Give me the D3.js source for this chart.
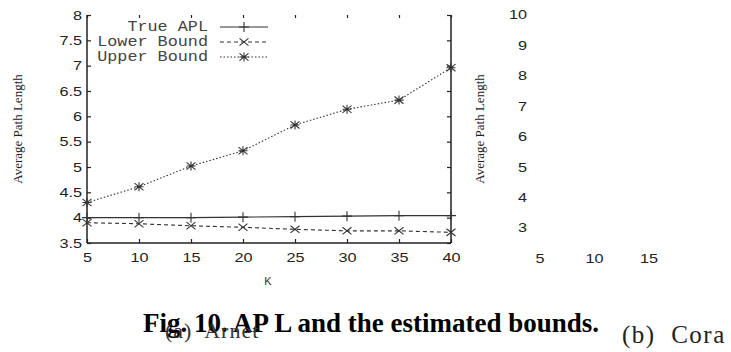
<!DOCTYPE html>
<html><head><meta charset="utf-8">
<script src="https://cdn.jsdelivr.net/npm/d3@7"></script>
<style>body{margin:0;background:#fff;}svg{display:block;}</style>
</head><body>
<svg id="c" width="731" height="352"></svg>
<script>
const kValues = [5, 10, 15, 20, 25, 30, 35, 40];
const trueAPL = [4.00, 4.00, 4.00, 4.01, 4.02, 4.03, 4.04, 4.04];
const lowerBound = [3.90, 3.88, 3.84, 3.81, 3.77, 3.74, 3.74, 3.71];
const upperBound = [4.30, 4.61, 5.02, 5.32, 5.83, 6.14, 6.32, 6.96];
const yTicksA = [3.5, 4, 4.5, 5, 5.5, 6, 6.5, 7, 7.5, 8];
const yTicksB = [3, 4, 5, 6, 7, 8, 9, 10];
const xTicksB = [5, 10, 15];
const seriesNames = ["True APL", "Lower Bound", "Upper Bound"];

const svg = d3.select("#c");
const ink = "#222";
const SX = 1.3; // horizontal stretch of the sans labels
const sans = "Liberation Sans, Arial, sans-serif";
const serif = "Liberation Serif, Times New Roman, serif";
const x = d3.scaleLinear().domain([5, 40]).range([87, 451]);
const y = d3.scaleLinear().domain([3.5, 8]).range([243, 15]);

function stretch(sel, sx) {
  sel.each(function () {
    const t = d3.select(this);
    const x0 = +t.attr("x") || 0;
    t.attr("x", x0 / sx).attr("transform", `scale(${sx},1)`);
  });
}

// axes panel (a)
const gL = svg.append("g").attr("transform", `translate(${x.range()[0]},0)`)
  .call(d3.axisLeft(y).tickValues(yTicksA).tickSize(-4).tickPadding(5).tickFormat(d3.format("")));
const gR = svg.append("g").attr("transform", `translate(${x.range()[1]},0)`)
  .call(d3.axisRight(y).tickValues(yTicksA).tickSize(-4).tickFormat(""));
const gB = svg.append("g").attr("transform", `translate(0,${y.range()[0]})`)
  .call(d3.axisBottom(x).tickValues(kValues).tickSize(-4).tickPadding(10));
const gT = svg.append("g").attr("transform", `translate(0,${y.range()[1]})`)
  .call(d3.axisTop(x).tickValues(kValues).tickSize(-3).tickFormat(""));
gT.select(".domain").remove();
gR.select(".domain").attr("d", `M0,${y.range()[1]}V${y.range()[0]}`);
gL.select(".domain").attr("d", `M0,${y.range()[1]}V${y.range()[0]}`);
gB.select(".domain").attr("d", `M${x.range()[0]},0H${x.range()[1]}`);
[gL, gR, gB, gT].forEach(g => {
  g.selectAll(".domain").attr("stroke", ink).attr("stroke-width", 1.5);
  g.selectAll(".tick line").attr("stroke", ink).attr("stroke-width", 1.2);
  g.selectAll("text").attr("fill", "#222").attr("font-family", sans).attr("font-size", 12.5);
});
stretch(gL.selectAll("text"), SX);
stretch(gB.selectAll("text"), SX);

// lines
const line = d3.line().x((d, i) => x(kValues[i])).y(d => y(d));
const styles = [
  {data: trueAPL, dash: null, marker: "plus"},
  {data: lowerBound, dash: "4,3", marker: "cross"},
  {data: upperBound, dash: "1.5,2", marker: "star"}
];
function marker(g, type, cx, cy, s) {
  const p = d3.path();
  if (type === "plus" || type === "star") { p.moveTo(cx - s, cy); p.lineTo(cx + s, cy); p.moveTo(cx, cy - s); p.lineTo(cx, cy + s); }
  if (type === "cross" || type === "star") { p.moveTo(cx - s, cy - s * 0.8); p.lineTo(cx + s, cy + s * 0.8); p.moveTo(cx - s, cy + s * 0.8); p.lineTo(cx + s, cy - s * 0.8); }
  g.append("path").attr("d", p.toString()).attr("stroke", "#333").attr("stroke-width", 1.1).attr("fill", "none");
}
styles.forEach(s => {
  svg.append("path").attr("d", line(s.data)).attr("fill", "none").attr("stroke", "#333")
    .attr("stroke-width", 1.1).attr("stroke-dasharray", s.dash);
  s.data.forEach((v, i) => marker(svg, s.marker, x(kValues[i]), y(v), s.marker === "plus" ? 5 : 4.5));
});

// legend
seriesNames.forEach((n, i) => {
  const ly = 27 + i * 15;
  const t = svg.append("text").attr("x", 208).attr("y", ly + 4).attr("text-anchor", "end")
    .attr("font-family", "Liberation Mono, Courier New, monospace").attr("font-size", 14)
    .attr("fill", "#444").text(n);
  stretch(t, 1.2);
  svg.append("line").attr("x1", 220).attr("x2", 268).attr("y1", ly).attr("y2", ly).attr("stroke", "#333")
    .attr("stroke-width", 1.1).attr("stroke-dasharray", styles[i].dash);
  marker(svg, styles[i].marker, 244, ly, styles[i].marker === "plus" ? 5 : 4.5);
});

// axis labels
svg.append("text").attr("transform", "translate(22,129) rotate(-90)").attr("text-anchor", "middle")
  .attr("font-family", serif).attr("font-size", 13).attr("fill", "#222").text("Average Path Length");
svg.append("text").attr("x", 268).attr("y", 285).attr("text-anchor", "middle")
  .attr("font-family", sans).attr("font-size", 11).attr("fill", "#333").text("K");

// panel (b) partial
const yB = d3.scaleLinear().domain([3, 10]).range([228, 15]);
const xB = d3.scaleLinear().domain([5, 15]).range([540, 649]);
yTicksB.forEach(tv => {
  const t = svg.append("text").attr("x", 527).attr("y", yB(tv) + 4.5).attr("text-anchor", "end")
    .attr("font-family", sans).attr("font-size", 12.5).attr("fill", "#222").text(tv);
  stretch(t, SX);
});
xTicksB.forEach(tv => {
  const t = svg.append("text").attr("x", xB(tv)).attr("y", 263).attr("text-anchor", "middle")
    .attr("font-family", sans).attr("font-size", 12.5).attr("fill", "#222").text(tv);
  stretch(t, SX);
});
svg.append("text").attr("transform", "translate(484,129) rotate(-90)").attr("text-anchor", "middle")
  .attr("font-family", serif).attr("font-size", 13).attr("fill", "#222").text("Average Path Length");

// captions
svg.append("text").attr("x", 143).attr("y", 332).attr("font-family", serif)
  .attr("font-weight", "bold").attr("font-size", 27).attr("fill", "#000").text("Fig. 10. AP L and the estimated bounds.");
svg.append("text").attr("x", 165).attr("y", 338).attr("font-family", serif).attr("xml:space", "preserve")
  .attr("font-size", 22).attr("letter-spacing", 1).attr("fill", "#333").text("(a)  Arnet");
svg.append("text").attr("x", 622).attr("y", 343).attr("font-family", serif).attr("xml:space", "preserve")
  .attr("font-size", 25).attr("letter-spacing", 1.5).attr("fill", "#222").text("(b)  Cora");
</script>
</body></html>
